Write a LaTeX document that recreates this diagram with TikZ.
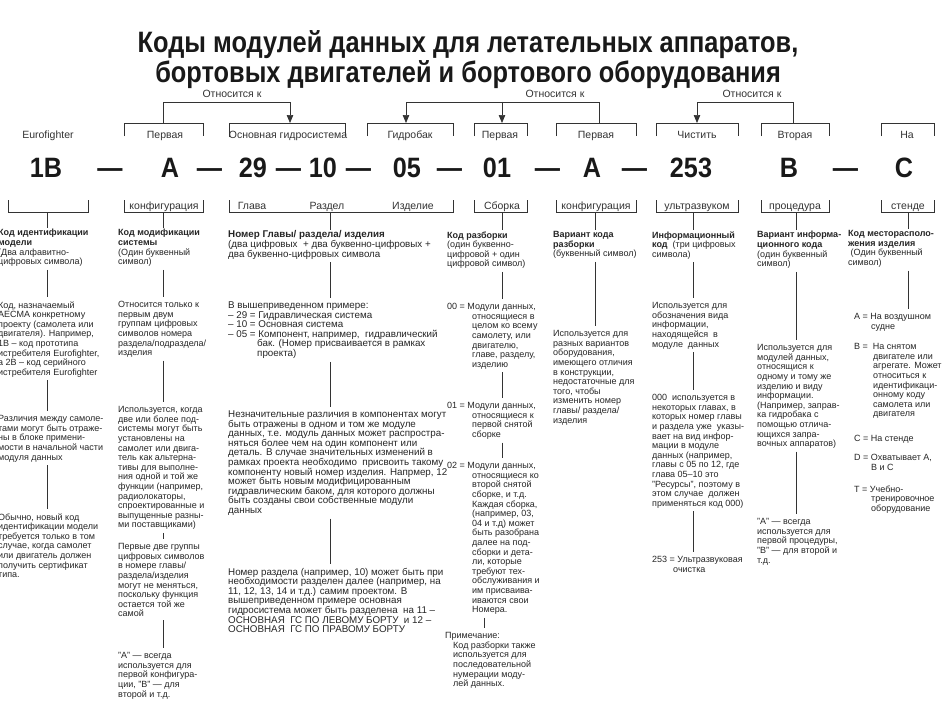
\documentclass[tikz,border=0pt]{standalone}
\usepackage{fontspec}
\setmainfont{Liberation Sans}
\newfontfamily\titlefont{Liberation Sans}[FakeStretch=0.86]
\newfontfamily\codefont{Liberation Sans}[FakeStretch=0.9]
\usetikzlibrary{arrows.meta}
\tikzset{
  ln/.style={line width=0.7pt, draw=black!80},
  conn/.style={ln, shorten <=3pt, shorten >=4pt},
  tick/.style={ln, shorten >=1pt},
  arr/.style={ln, -{Triangle[length=8pt,width=6.5pt]}},
  txt/.style={anchor=north west, yshift={0.75*#1pt}, inner sep=0pt, align=left, text=black!85,
    font=\fontsize{#1}{9.6}\selectfont, execute at begin node={\rule{0pt}{0.75em}}},
  txt/.default=9,
  lbl/.style={anchor=base, inner sep=0pt, text=black!80, font=\fontsize{10.5}{12}\selectfont},
  code/.style={anchor=base, inner sep=0pt, text=black!90, font=\codefont\bfseries\fontsize{28}{30}\selectfont},
  ttl/.style={anchor=base, inner sep=0pt, align=center, text=black!90,
    font=\titlefont\bfseries\fontsize{29.5}{31}\selectfont}
}
\begin{document}
\begin{tikzpicture}[x=1pt,y=-1pt]
\useasboundingbox (0,0) rectangle (943,701);
\fill[white] (0,0) rectangle (943,701);

% ---- title
\node[ttl] (title) at (468,83) {Коды модулей данных для летательных аппаратов,\\бортовых двигателей и бортового оборудования};

% ---- code row
\node[code] (k1) at (46,177) {1B};
\node[code] (s1) at (110,177) {—};
\node[code] (k2) at (170,177) {A};
\node[code] (s2) at (209.5,177) {—};
\node[code] (k3) at (253,177) {29};
\node[code] (s3) at (288.5,177) {—};
\node[code] (k4) at (323,177) {10};
\node[code] (s4) at (358.5,177) {—};
\node[code] (k5) at (407,177) {05};
\node[code] (s5) at (449.5,177) {—};
\node[code] (k6) at (497,177) {01};
\node[code] (s6) at (547.5,177) {—};
\node[code] (k7) at (592,177) {A};
\node[code] (s7) at (634.5,177) {—};
\node[code] (k8) at (691,177) {253};
\node[code] (k9) at (789,177) {B};
\node[code] (s9) at (845.5,177) {—};
\node[code] (k10) at (904,177) {C};

% ---- upper brackets
\draw[ln] (124,136) |- (203,123) -- (203,136);
\draw[ln] (229,137) |- (345,123) -- (345,136);
\draw[ln] (367,136) |- (453,123) -- (453,136);
\draw[ln] (474,136) |- (527,123) -- (527,136);
\draw[ln] (556,136) |- (636,123) -- (636,136);
\draw[ln] (656,136) |- (738,123) -- (738,136);
\draw[ln] (761,136) |- (829,123) -- (829,136);
\draw[ln] (881,136) |- (934,123) -- (934,136);
\coordinate (U1) at (163,123);
\coordinate (U2) at (290,123);
\coordinate (U3) at (406,123);
\coordinate (U4) at (502,123);
\coordinate (U5) at (599,123);
\coordinate (U6) at (697,123);
\coordinate (U7) at (793,123);
\coordinate (J1) at (502,102);

\node[lbl] (eu) at (48,138) {Eurofighter};
\node[lbl] (u1) at (165,138) {Первая};
\node[lbl] (u2) at (288,138) {Основная гидросистема};
\node[lbl] (u3) at (410,138) {Гидробак};
\node[lbl] (u4) at (500,138) {Первая};
\node[lbl] (u5) at (596,138) {Первая};
\node[lbl] (u6) at (697,138) {Чистить};
\node[lbl] (u7) at (795,138) {Вторая};
\node[lbl] (u8) at (907,138) {На};

% ---- "Относится к" arrows
\draw[arr] (U1) |- (U2 |- J1) -- (U2);
\draw[arr] (U5) |- (U3 |- J1) -- (U3);
\draw[arr] (J1) -- (U4);
\draw[arr] (U7) |- (U6 |- J1) -- (U6);
\node[lbl] (r1) at (232,97) {Относится к};
\node[lbl] (r2) at (555,97) {Относится к};
\node[lbl] (r3) at (752,97) {Относится к};

% ---- lower brackets
\draw[ln] (8,200) |- (88,212) -- (88,200);
\draw[ln] (124,200) |- (203,212) -- (203,200);
\draw[ln] (229,200) |- (453,212) -- (453,200);
\draw[ln] (474,200) |- (527,212) -- (527,200);
\draw[ln] (556,200) |- (636,212) -- (636,200);
\draw[ln] (656,200) |- (738,212) -- (738,200);
\draw[ln] (761,200) |- (829,212) -- (829,200);
\draw[ln] (881,200) |- (934,212) -- (934,200);
\node[lbl] (l2) at (164,209) {конфигурация};
\node[lbl] (l3a) at (252,209) {Глава};
\node[lbl] (l3b) at (327,209) {Раздел};
\node[lbl] (l3c) at (413,209) {Изделие};
\node[lbl] (l4) at (502,209) {Сборка};
\node[lbl] (l5) at (596,209) {конфигурация};
\node[lbl] (l6) at (697,209) {ультразвуком};
\node[lbl] (l7) at (795,209) {процедура};
\node[lbl] (l8) at (908,209) {стенде};
\coordinate (L1) at (47,212);
\coordinate (L2) at (163,212);
\coordinate (L3) at (330,212);
\coordinate (L4) at (502,212);
\coordinate (L5) at (595,212);
\coordinate (L6) at (693,212);
\coordinate (L7) at (796,212);
\coordinate (L8) at (908,212);
\coordinate (X4b) at (484,0);

% ---- column 1
\node[txt] (h1) at (-2,236) {\textbf{Код идентификации}\\\textbf{модели}\\(Два алфавитно-\\цифровых символа)};
\node[txt] (b1a) at (-2,308) {Код, назначаемый\\AECMA конкретному\\проекту (самолета или\\двигателя). Например,\\1B – код прототипа\\истребителя Eurofighter,\\а 2B – код серийного\\истребителя Eurofighter};
\node[txt] (b1b) at (-2,422) {Различия между самоле-\\тами могут быть отраже-\\ны в блоке примени-\\мости в начальной части\\модуля данных};
\node[txt] (b1c) at (-2,520) {Обычно, новый код\\идентификации модели\\требуется только в том\\случае, когда самолет\\или двигатель должен\\получить сертификат\\типа.};

% ---- column 2
\node[txt] (h2) at (118,236) {\textbf{Код модификации}\\\textbf{системы}\\(Один буквенный\\символ)};
\node[txt] (b2a) at (118,308) {Относится только к\\первым двум\\группам цифровых\\символов номера\\раздела/подраздела/\\изделия};
\node[txt] (b2b) at (118,413) {Используется, когда\\две или более под-\\системы могут быть\\установлены на\\самолет или двига-\\тель как альтерна-\\тивы для выполне-\\ния одной и той же\\функции (например,\\радиолокаторы,\\спроектированные и\\выпущенные разны-\\ми поставщиками)};
\node[txt] (b2c) at (118,550) {Первые две группы\\цифровых символов\\в номере главы/\\раздела/изделия\\могут не меняться,\\поскольку функция\\остается той же\\самой};
\node[txt] (b2d) at (118,659) {"A" — всегда\\используется для\\первой конфигура-\\ции, "B" — для\\второй и т.д.};

% ---- column 3
\node[txt=9.8] (h3) at (228,238) {\textbf{Номер Главы/ раздела/ изделия}\\(два цифровых \ + два буквенно-цифровых +\\два буквенно-цифровых символа};
\node[txt=9.8] (b3a) at (228,309) {В вышеприведенном примере:\\– 29 = Гидравлическая система\\– 10 = Основная система\\– 05 = Компонент, например, \ гидравлический\\\hspace*{29pt}бак. (Номер присваивается в рамках\\\hspace*{29pt}проекта)};
\node[txt=9.8] (b3b) at (228,418) {Незначительные различия в компонентах могут\\быть отражены в одном и том же модуле\\данных, т.е. модуль данных может распростра-\\няться более чем на один компонент или\\деталь. В случае значительных изменений в\\рамках проекта необходимо \ присвоить такому\\компоненту новый номер изделия. Напрмер, 12\\может быть новым модифицированным\\гидравлическим баком, для которого должны\\быть созданы свои собственные модули\\данных};
\node[txt=9.8] (b3c) at (228,575) {Номер раздела (например, 10) может быть при\\необходимости разделен далее (например, на\\11, 12, 13, 14 и т.д.) самим проектом. В\\вышеприведенном примере основная\\гидросистема может быть разделена \ на 11 –\\ОСНОВНАЯ \ ГС ПО ЛЕВОМУ БОРТУ \ и 12 –\\ОСНОВНАЯ \ ГС ПО ПРАВОМУ БОРТУ};

% ---- column 4
\node[txt] (h4) at (447,238) {\textbf{Код разборки}\\(один буквенно-\\цифровой + один\\цифровой символ)};
\node[txt] (b4a) at (447,310) {00 = Модули данных,\\\hspace*{25pt}относящиеся в\\\hspace*{25pt}целом ко всему\\\hspace*{25pt}самолету, или\\\hspace*{25pt}двигателю,\\\hspace*{25pt}главе, разделу,\\\hspace*{25pt}изделию};
\node[txt] (b4b) at (447,409) {01 = Модули данных,\\\hspace*{25pt}относящиеся к\\\hspace*{25pt}первой снятой\\\hspace*{25pt}сборке};
\node[txt] (b4c) at (447,469) {02 = Модули данных,\\\hspace*{25pt}относящиеся ко\\\hspace*{25pt}второй снятой\\\hspace*{25pt}сборке, и т.д.\\\hspace*{25pt}Каждая сборка,\\\hspace*{25pt}(например, 03,\\\hspace*{25pt}04 и т.д) может\\\hspace*{25pt}быть разобрана\\\hspace*{25pt}далее на под-\\\hspace*{25pt}сборки и дета-\\\hspace*{25pt}ли, которые\\\hspace*{25pt}требуют тех-\\\hspace*{25pt}обслуживания и\\\hspace*{25pt}им присваива-\\\hspace*{25pt}иваются свои\\\hspace*{25pt}Номера.};
\node[txt] (b4d) at (445,639) {Примечание:\\\hspace*{8pt}Код разборки также\\\hspace*{8pt}используется для\\\hspace*{8pt}последовательной\\\hspace*{8pt}нумерации моду-\\\hspace*{8pt}лей данных.};

% ---- column 5
\node[txt] (h5) at (553,238) {\textbf{Вариант кода}\\\textbf{разборки}\\(буквенный символ)};
\node[txt] (b5a) at (553,337) {Используется для\\разных вариантов\\оборудования,\\имеющего отличия\\в конструкции,\\недостаточные для\\того, чтобы\\изменить номер\\главы/ раздела/\\изделия};

% ---- column 6
\node[txt] (h6) at (652,238) {\textbf{Информационный}\\\textbf{код} \ (три цифровых\\символа)};
\node[txt] (b6a) at (652,309) {Используется для\\обозначения вида\\информации,\\находящейся \ в\\модуле \ данных};
\node[txt] (b6b) at (652,401) {000 \ используется в\\некоторых главах, в\\которых номер главы\\и раздела уже \ указы-\\вает на вид инфор-\\мации в модуле\\данных (например,\\главы с 05 по 12, где\\глава 05–10 это\\"Ресурсы", поэтому в\\этом случае \ должен\\применяться код 000)};
\node[txt] (b6c) at (652,563) {253 = Ультразвуковая\\\hspace*{21pt}очистка};

% ---- column 7
\node[txt] (h7) at (757,238) {\textbf{Вариант информа-}\\\textbf{ционного кода}\\(один буквенный\\символ)};
\node[txt] (b7a) at (757,351) {Используется для\\модулей данных,\\относящися к\\одному и тому же\\изделию и виду\\информации.\\(Например, заправ-\\ка гидробака с\\помощью отлича-\\ющихся запра-\\вочных аппаратов)};
\node[txt] (b7b) at (757,525) {"A" — всегда\\используется для\\первой процедуры,\\"B" — для второй и\\т.д.};

% ---- column 8
\node[txt] (h8) at (848,237) {\textbf{Код месторасполо-}\\\textbf{жения изделия}\\\ (Один буквенный\\символ)};
\node[txt] (b8a) at (854,320) {A = На воздушном\\\hspace*{17pt}судне};
\node[txt] (b8b) at (854,350) {B = \ На снятом\\\hspace*{19pt}двигателе или\\\hspace*{19pt}агрегате. Может\\\hspace*{19pt}относиться к\\\hspace*{19pt}идентификаци-\\\hspace*{19pt}онному коду\\\hspace*{19pt}самолета или\\\hspace*{19pt}двигателя};
\node[txt] (b8c) at (854,441) {C = На стенде};
\node[txt] (b8d) at (854,461) {D = Охватывает A,\\\hspace*{17pt}B и C};
\node[txt] (b8e) at (854,492) {T = Учебно-\\\hspace*{17pt}тренировочное\\\hspace*{17pt}оборудование};

% ---- ticks from lower brackets to headings
\draw[tick] (L1) -- (h1.north -| L1);
\draw[tick] (L2) -- (h2.north -| L2);
\draw[tick] (L3) -- (h3.north -| L3);
\draw[tick] (L4) -- (h4.north -| L4);
\draw[tick] (L5) -- (h5.north -| L5);
\draw[tick] (L6) -- (h6.north -| L6);
\draw[tick] (L7) -- (h7.north -| L7);
\draw[tick] (L8) -- (h8.north -| L8);

% ---- connectors between blocks
\draw[conn] (h1.south -| L1) -- (b1a.north -| L1);
\draw[conn] (b1a.south -| L1) -- (b1b.north -| L1);
\draw[conn] (b1b.south -| L1) -- (b1c.north -| L1);
\draw[conn] (h2.south -| L2) -- (b2a.north -| L2);
\draw[conn] (b2a.south -| L2) -- (b2b.north -| L2);
\draw[conn] (b2b.south -| L2) -- (b2c.north -| L2);
\draw[conn] (b2c.south -| L2) -- (b2d.north -| L2);
\draw[conn] (h3.south -| L3) -- (b3a.north -| L3);
\draw[conn] (b3a.south -| L3) -- (b3b.north -| L3);
\draw[conn] (b3b.south -| L3) -- (b3c.north -| L3);
\draw[conn] (h4.south -| L4) -- (b4a.north -| L4);
\draw[conn] (b4a.south -| L4) -- (b4b.north -| L4);
\draw[conn] (b4b.south -| L4) -- (b4c.north -| L4);
\draw[conn] (b4c.south -| X4b) -- (b4d.north -| X4b);
\draw[conn] (h5.south -| L5) -- (b5a.north -| L5);
\draw[conn] (h6.south -| L6) -- (b6a.north -| L6);
\draw[conn] (b6a.south -| L6) -- (b6b.north -| L6);
\draw[conn] (b6b.south -| L6) -- (b6c.north -| L6);
\draw[conn] (h7.south -| L7) -- (b7a.north -| L7);
\draw[conn] (b7a.south -| L7) -- (b7b.north -| L7);
\draw[conn] (h8.south -| L8) -- (b8a.north -| L8);
\end{tikzpicture}
\end{document}
